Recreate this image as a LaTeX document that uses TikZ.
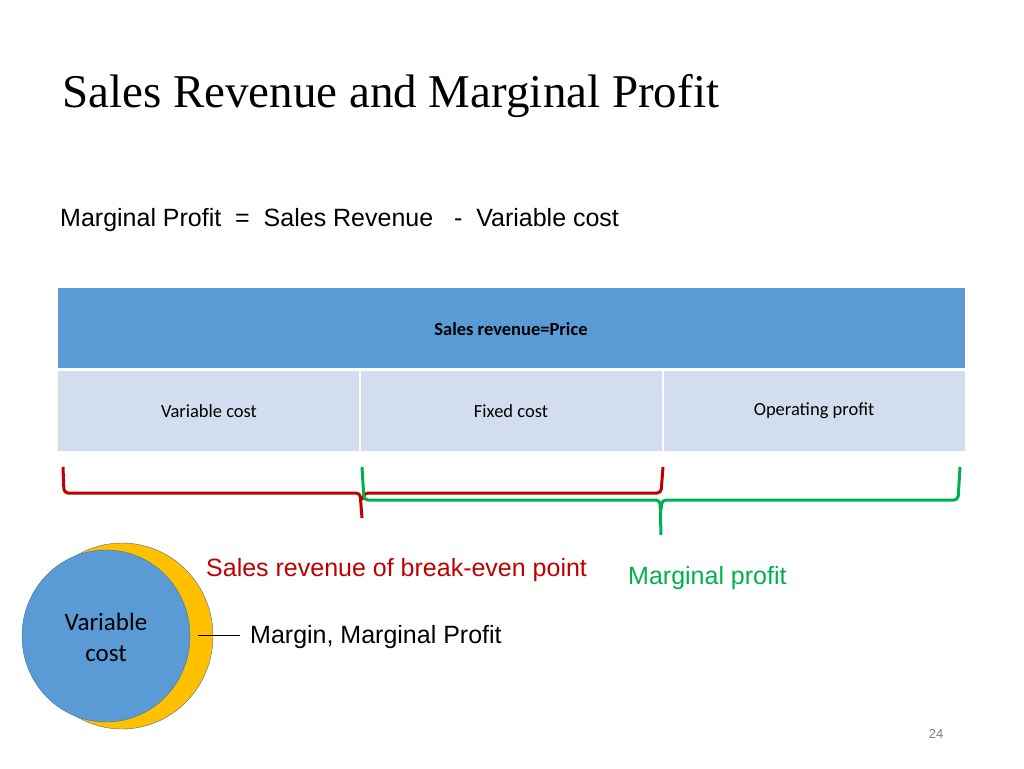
\documentclass[tikz,border=0pt]{standalone}
\usepackage{fontspec}
\setmainfont{Liberation Sans}
\newfontfamily\titlefont{Liberation Serif}
\newfontfamily\carlitofont{Carlito}
\begin{document}
\begin{tikzpicture}[x=1pt,y=-1pt,
  lbl/.style={inner sep=0pt,anchor=west,font=\fontsize{25}{30}\selectfont},
  cell/.style={inner sep=0pt,font=\carlitofont\fontsize{18.5}{22}\selectfont},
  brace/.style={line width=3pt,rounded corners=4pt}]
\useasboundingbox (0,0) rectangle (1024,768);
\node[inner sep=0pt,anchor=west,font=\titlefont\fontsize{47}{54}\selectfont] (title) at (62,96) {Sales Revenue and Marginal Profit};
\node[lbl] (eq) at (60,220) {Marginal Profit\ \ =\ \ Sales Revenue\ \ \ -\ \ Variable cost};
% table
\fill[fill={rgb,255:red,91;green,155;blue,213}] (58,288) rectangle (965,368);
\fill[fill={rgb,255:red,210;green,222;blue,239}] (58,371) rectangle (965,451);
\draw[white,line width=1.5pt] (360,371) -- (360,451) (663,371) -- (663,451);
\node[cell,font=\carlitofont\bfseries\fontsize{18.5}{22}\selectfont] (h) at (511,329) {Sales revenue=Price};
\node[cell] (c1) at (209,411) {Variable cost};
\node[cell] (c2) at (511,411) {Fixed cost};
\node[cell] (c3) at (814,411) {Operating profit};
% braces
\draw[brace,color={rgb,255:red,192;green,0;blue,0}] (63,467) -- (64,493) -- (360,493) -- (362,518);
\draw[brace,color={rgb,255:red,192;green,0;blue,0}] (362,500) -- (364,493) -- (661,493) -- (663,467);
\draw[brace,color={rgb,255:red,0;green,176;blue,80}] (362,467) -- (364,500) -- (660,500) -- (661,535);
\draw[brace,color={rgb,255:red,0;green,176;blue,80}] (661,510) -- (662,500) -- (958,500) -- (960,467);
\node[lbl,text={rgb,255:red,192;green,0;blue,0}] (br) at (206,570) {Sales revenue of break-even point};
\node[lbl,text={rgb,255:red,0;green,176;blue,80}] (mp) at (628,578) {Marginal profit};
% circles
\draw[fill={rgb,255:red,255;green,192;blue,0},draw={rgb,255:red,65;green,113;blue,156}] (122,636) ellipse (91 and 93);
\draw[fill={rgb,255:red,91;green,155;blue,213},draw={rgb,255:red,65;green,113;blue,156}] (106,636) ellipse (84 and 86);
\node[align=center,font=\carlitofont\fontsize{25}{31}\selectfont] (vc) at (106,637) {Variable\\cost};
\coordinate (m) at (198,635);
\node[lbl] (mm) at (250,637) {Margin, Marginal Profit};
\draw (m) -- (240,635);
\node[inner sep=0pt,text=gray,font=\fontsize{13}{15}\selectfont] (pg) at (936,734) {24};
\end{tikzpicture}
\end{document}
